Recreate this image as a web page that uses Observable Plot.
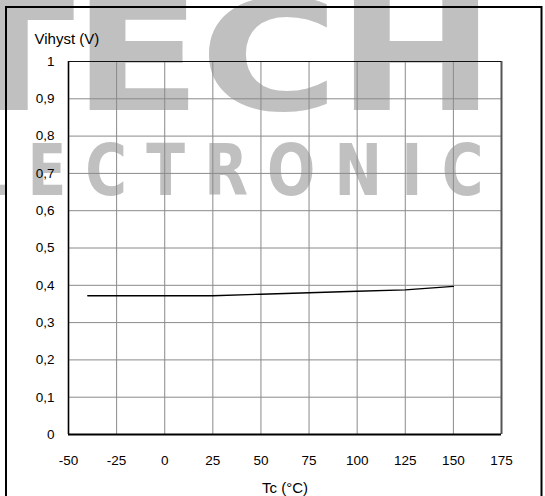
<!DOCTYPE html>
<html>
<head>
<meta charset="utf-8">
<script src="https://cdn.jsdelivr.net/npm/d3@7"></script>
<script src="https://cdn.jsdelivr.net/npm/@observablehq/plot@0.6"></script>
<style>
  html, body { margin: 0; padding: 0; background: #fff; }
  #chart { width: 545px; height: 496px; overflow: hidden; }
  svg text.wm { font-family: 'DejaVu Sans', sans-serif; font-weight: bold; fill: #c0c0c0; }
</style>
</head>
<body>
<div id="chart"></div>
<script>
// Data
const temps   = [-40, -25, 0, 25, 50, 75, 100, 125, 150];
const vihyst  = [0.372, 0.372, 0.372, 0.372, 0.376, 0.380, 0.384, 0.388, 0.397];
const xTicks  = [-50, -25, 0, 25, 50, 75, 100, 125, 150, 175];
const xTickLabels = ["-50", "-25", "0", "25", "50", "75", "100", "125", "150", "175"];
const yTicks  = [0, 0.1, 0.2, 0.3, 0.4, 0.5, 0.6, 0.7, 0.8, 0.9, 1];
const yTickLabels = ["0", "0,1", "0,2", "0,3", "0,4", "0,5", "0,6", "0,7", "0,8", "0,9", "1"];
const yTitle = "Vihyst (V)";
const xTitle = "Tc (°C)";
const watermark1 = "TECH";
const watermark2 = "ELECTRONIC";

const data = temps.map((t, i) => ({t, v: vihyst[i]}));

const plot = Plot.plot({
  width: 545,
  height: 496,
  marginLeft: 68,
  marginRight: 44,
  marginTop: 61,
  marginBottom: 62,
  style: {fontFamily: "'Liberation Sans', Arial, sans-serif", fontSize: "13.5px", color: "#000", background: "#fff"},
  x: {domain: [-50, 175]},
  y: {domain: [0, 1]},
  marks: [
    Plot.gridX(xTicks, {stroke: "#8a8a8a", strokeOpacity: 1}),
    Plot.gridY(yTicks, {stroke: "#8a8a8a", strokeOpacity: 1}),
    Plot.ruleX([-50], {stroke: "#000", strokeWidth: 1.6}),
    Plot.ruleX([175], {stroke: "#555", strokeWidth: 2}),
    Plot.ruleY([1], {stroke: "#111", strokeWidth: 1}),
    Plot.ruleY([0], {stroke: "#000", strokeWidth: 2}),
    Plot.line(data, {x: "t", y: "v", stroke: "#000", strokeWidth: 1.3}),
    Plot.axisX({ticks: xTicks, tickFormat: (d) => xTickLabels[xTicks.indexOf(d)], tickSize: 0, tickPadding: 21, label: null, fontSize: 13.5}),
    Plot.axisY({ticks: yTicks, tickFormat: (d) => yTickLabels[yTicks.indexOf(d)], tickSize: 0, tickPadding: 14, label: null, fontSize: 13.5}),
    Plot.text([yTitle], {text: d => d, frameAnchor: "top-left", textAnchor: "start", dx: -34, dy: -28, fontSize: 15}),
    Plot.text([xTitle], {text: d => d, frameAnchor: "bottom", dy: 58, fontSize: 15})
  ]
});

// Watermark beneath the marks
const svg = d3.select(plot);
const firstG = plot.querySelector("g");
const wm = document.createElementNS("http://www.w3.org/2000/svg", "g");
plot.insertBefore(wm, firstG);
const w = d3.select(wm);
w.append("g").attr("transform", "translate(-55,110) scale(1.234,1)")
  .append("text").attr("class", "wm").attr("x", 0).attr("y", 0).attr("text-anchor", "start")
  .style("font-size", "154px").style("letter-spacing", "-2px").text(watermark1);
w.append("g").attr("transform", "translate(-86,195) scale(0.8,1)")
  .append("text").attr("class", "wm").attr("x", 0).attr("y", 0).attr("text-anchor", "start")
  .style("font-size", "71px").style("letter-spacing", "24px").text(watermark2);

// Outer frame
svg.append("rect").attr("x", 6).attr("y", 7).attr("width", 535.5).attr("height", 540)
  .attr("fill", "none").attr("stroke", "#000").attr("stroke-width", 2);

document.getElementById("chart").appendChild(plot);
</script>
</body>
</html>
